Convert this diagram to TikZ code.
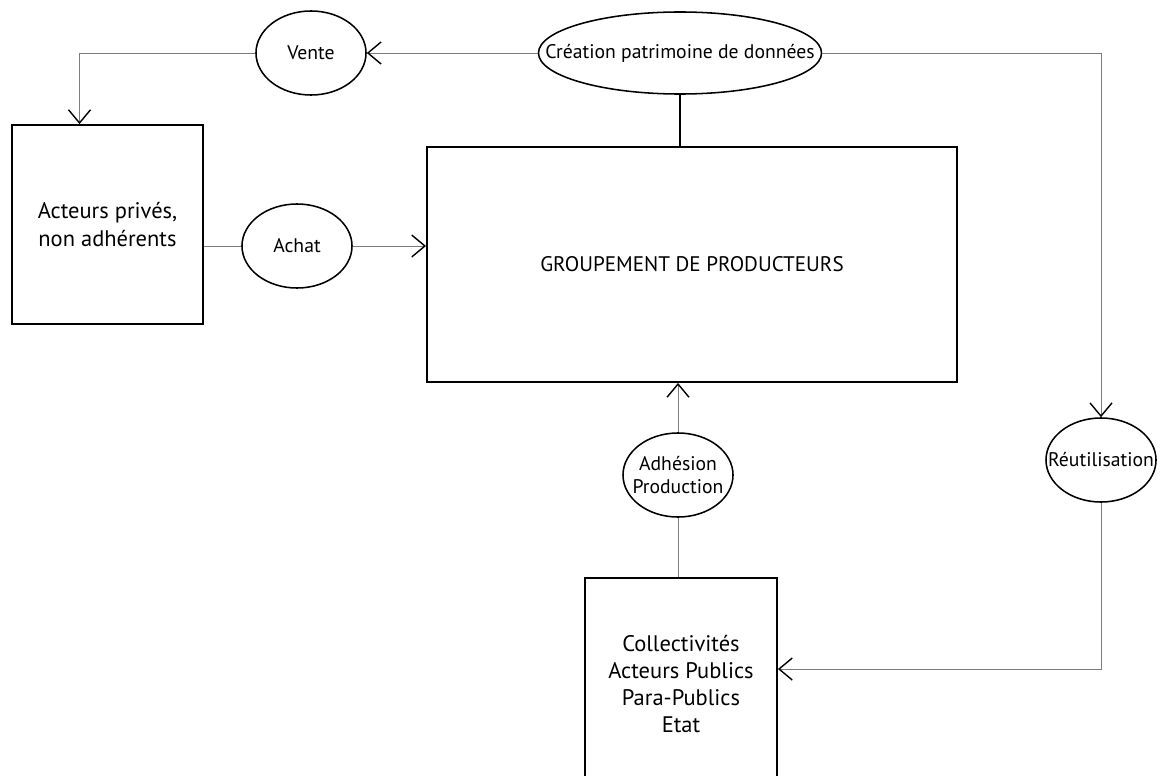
\documentclass[tikz,border=0pt]{standalone}
\usepackage{fontspec}
\setmainfont{PT Sans}
\usepackage{tikz}
\usetikzlibrary{arrows.meta,positioning,calc,shapes.geometric}
\definecolor{linkgray}{RGB}{125,125,125}

\begin{document}
\begin{tikzpicture}[x=0.025cm, y=-0.025cm,
  every node/.style={font=\fontsize{14}{17}\selectfont},
  boite/.style={draw, line width=1.3pt, inner sep=0pt, align=center, font=\fontsize{16}{20}\selectfont},
  oval/.style={draw, ellipse, line width=1.1pt, inner sep=0pt, minimum width=2.75cm, minimum height=2.1cm},
  lien/.style={linkgray, line width=0.6pt},
  fleche/.style={lien, -{Straight Barb[length=3.3mm, width=5.5mm, black, line width=1pt]}}]
\useasboundingbox (0,0) rectangle (1162,775);
% Boites
\node[boite, minimum width=4.775cm, minimum height=4.975cm] (priv) at (107.5,224.5) {Acteurs privés,\\non adhérents};
\node[boite, minimum width=13.25cm, minimum height=5.875cm, font=\fontsize{15}{20}\selectfont] (grp) at (692,264.5) {\raisebox{-0.2cm}{GROUPEMENT DE PRODUCTEURS}};
\node[boite, minimum width=4.8cm, minimum height=5.3cm] (coll) at (681,684) {Collectivités\\[-1pt]Acteurs Publics\\[-1pt]Para-Publics\\[-1pt]Etat};
% Ellipses
\node[oval, minimum width=7.075cm, minimum height=2.05cm, label=center:{Création patrimoine de données}] (cre) at (680,53) {};
\node[oval, label=center:Vente] (vente) at (311,53) {};
\node[oval, label=center:Achat] (achat) at (297,246) {};
\node[oval, label={[align=center]center:Adhésion\\Production}] (adh) at (678,475) {};
\node[oval, label=center:Réutilisation] (reu) at (1101,460) {};
% Liens
\draw[line width=1.3pt] (cre.south) -- (cre.south |- grp.north);
\draw[fleche] (cre.west) -- (vente.east);
\draw[fleche] (vente.west) -| ([xshift=-0.7cm]priv.north);
\draw[lien] (achat.west -| priv.east) -- (achat.west);
\draw[fleche] (achat.east) -- (achat.east -| grp.west);
\draw[fleche] (cre.east) -| (reu.north);
\draw[fleche] (reu.south) |- ([yshift=0.375cm]coll.east);
\draw[fleche] (adh.north) -- (adh.north |- grp.south);
\draw[lien] (coll.north -| adh.south) -- (adh.south);
\end{tikzpicture}
\end{document}
